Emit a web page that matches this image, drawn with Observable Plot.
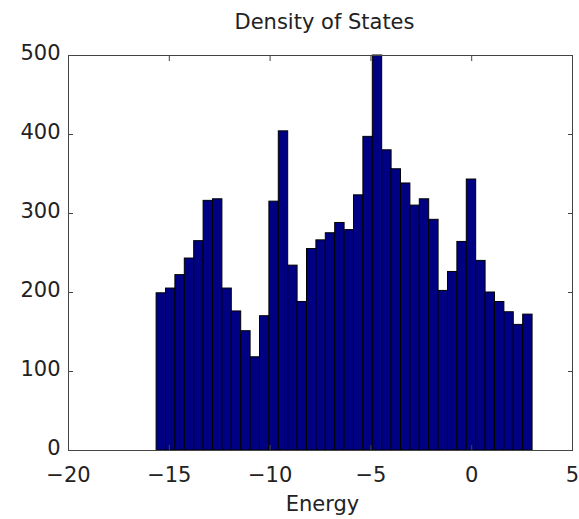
<!DOCTYPE html>
<html><head><meta charset="utf-8">
<script src="https://cdn.jsdelivr.net/npm/d3@7"></script>
<script src="https://cdn.jsdelivr.net/npm/@observablehq/plot@0.6"></script>
<style>body{margin:0;background:#fff}</style>
</head><body><div id="chart"></div>
<script>
const title = "Density of States";
const xLabel = "Energy";
const counts = [199,205,222,243,265,316,318,205,176,151,118,170,315,404,234,188,255,266,275,288,279,323,397,500,380,356,338,310,318,292,202,226,264,343,240,200,188,175,159,172];
const binLo = -15.63, binHi = 3.02;
const xTicks = [-20,-15,-10,-5,0,5];
const yTicks = [0,100,200,300,400,500];

const n = counts.length, w = (binHi - binLo) / n;
const bins = counts.map((c, i) => ({x1: binLo + i * w, x2: binLo + (i + 1) * w, count: c}));
const font = "'DejaVu Sans', sans-serif";
const fs = 21;

const chart = Plot.plot({
  width: 579, height: 519,
  marginLeft: 68, marginRight: 7, marginTop: 55, marginBottom: 69,
  style: {fontFamily: font, fontSize: fs + "px", color: "#000", background: "#fff"},
  x: {domain: [-20, 5], ticks: xTicks},
  y: {domain: [0, 500], ticks: yTicks},
  marks: [
    Plot.rectY(bins, {x1: "x1", x2: "x2", y: "count", fill: "#000082", stroke: "#000", strokeWidth: 1}),
    Plot.frame({stroke: "#444"}),
    Plot.axisX(xTicks, {anchor: "bottom", tickSize: -5, tickFormat: () => "", label: null, stroke: "#444"}),
    Plot.axisX(xTicks, {anchor: "top", tickSize: -5, tickFormat: () => "", label: null, stroke: "#444"}),
    Plot.axisY(yTicks, {anchor: "left", tickSize: -5, tickFormat: () => "", label: null, stroke: "#444"}),
    Plot.axisY(yTicks, {anchor: "right", tickSize: -5, tickFormat: () => "", label: null, stroke: "#444"}),
    Plot.axisX(xTicks, {anchor: "bottom", tickSize: 0, tickPadding: 17, label: null, fontSize: fs, fill: "#222"}),
    Plot.axisY(yTicks, {anchor: "left", tickSize: 0, tickPadding: 8, dy: -2, label: null, fontSize: fs, fill: "#222"}),
    Plot.text([title], {text: d => d, frameAnchor: "top", dx: 4, dy: -33, lineAnchor: "middle", fontSize: fs, fill: "#222"}),
    Plot.text([xLabel], {text: d => d, frameAnchor: "bottom", dx: 2, dy: 54, lineAnchor: "middle", fontSize: fs, fill: "#222"})
  ]
});
document.getElementById("chart").appendChild(chart);
</script>
</body></html>
